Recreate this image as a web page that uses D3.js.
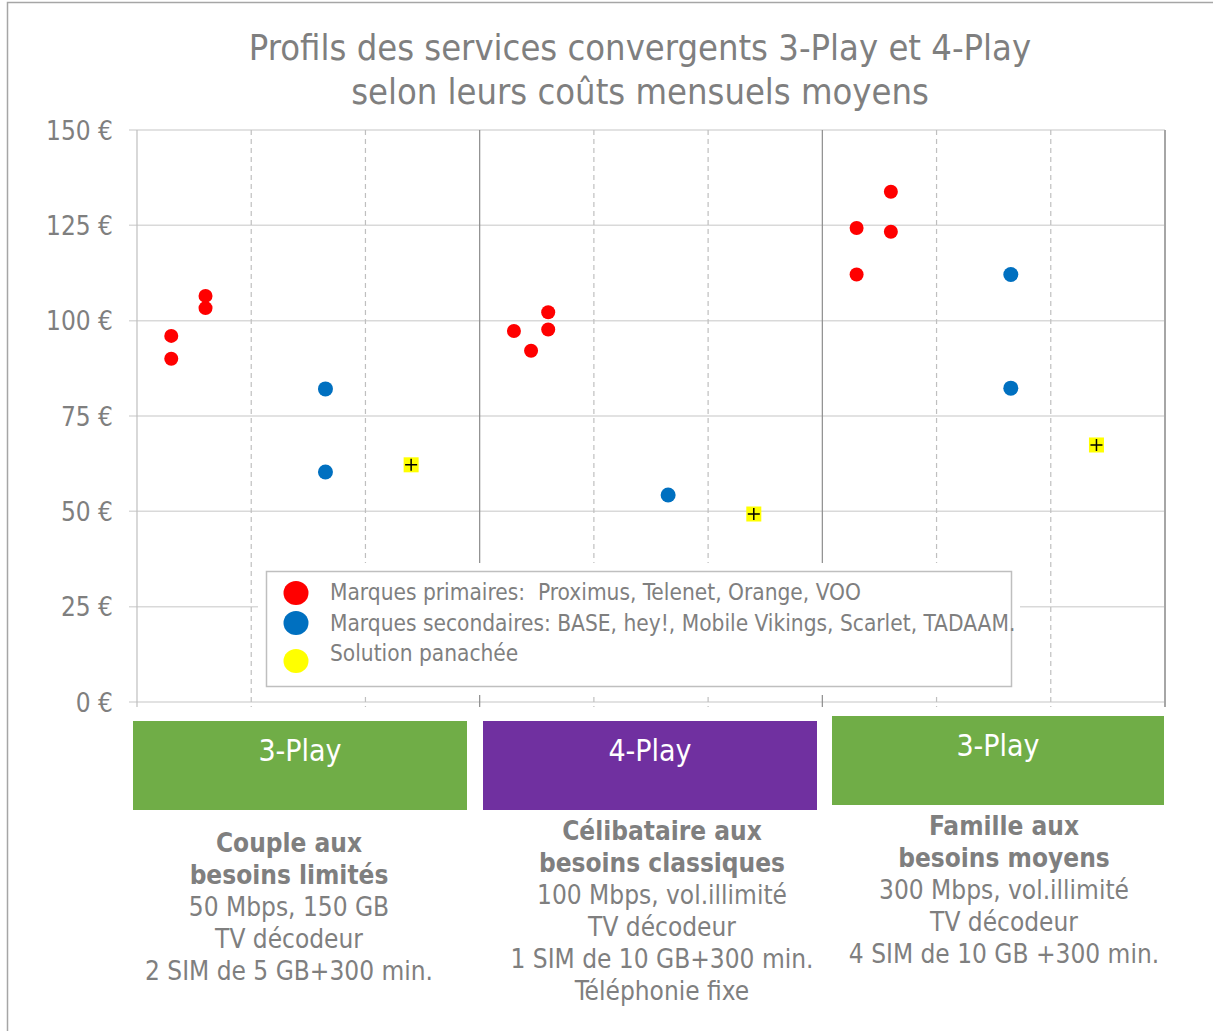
<!DOCTYPE html>
<html>
<head>
<meta charset="UTF-8">
<title>Profils des services convergents</title>
<script src="https://cdn.jsdelivr.net/npm/d3@7"></script>
<style>
  body { margin: 0; background: #fff; }
  text { font-family: "DejaVu Sans Condensed", "DejaVu Sans", sans-serif; fill: #7f7f7f; }
</style>
</head>
<body>
<script>
  // values (x = position along the 9 sub-columns)
  const primaryX = [0.3, 0.3, 0.6, 0.6, 3.3, 3.45, 3.6, 3.6, 6.3, 6.3, 6.6, 6.6];
  const primaryY = [96, 90, 106.5, 103.3, 97.3, 92.1, 102.2, 97.7, 124.3, 112.1, 133.8, 123.3];
  const secondaryX = [1.65, 1.65, 4.65, 7.65, 7.65];
  const secondaryY = [82.1, 60.3, 54.3, 112.1, 82.3];
  const mixX = [2.4, 5.4, 8.4];
  const mixY = [62.2, 49.3, 67.4];

  const yTicks = [0, 25, 50, 75, 100, 125, 150];
  const playLabels = ["3-Play", "4-Play", "3-Play"];
  const legendLabels = [
    "Marques primaires:  Proximus, Telenet, Orange, VOO",
    "Marques secondaires: BASE, hey!, Mobile Vikings, Scarlet, TADAAM.",
    "Solution panachée"
  ];
  const profileTitles = [
    ["Couple aux", "besoins limités"],
    ["Célibataire aux", "besoins classiques"],
    ["Famille aux", "besoins moyens"]
  ];
  const profileDetails = [
    ["50 Mbps, 150 GB", "TV décodeur", "2 SIM de 5 GB+300 min."],
    ["100 Mbps, vol.illimité", "TV décodeur", "1 SIM de 10 GB+300 min.", "Téléphonie fixe"],
    ["300 Mbps, vol.illimité", "TV décodeur", "4 SIM de 10 GB +300 min."]
  ];

  const W = 1213, H = 1031;
  const svg = d3.select("body").append("svg")
    .attr("width", W).attr("height", H);

  // outer frame
  svg.append("rect")
    .attr("x", 7.5).attr("y", 2.5)
    .attr("width", W + 10).attr("height", H + 10)
    .attr("fill", "none").attr("stroke", "#a6a6a6").attr("stroke-width", 1.5);

  const x = d3.scaleLinear().domain([0, 9]).range([137, 1165]);
  const y = d3.scaleLinear().domain([0, 150]).range([702, 130]);

  // title
  svg.append("text").attr("x", 640).attr("y", 60)
    .attr("text-anchor", "middle").style("font-size", "36px")
    .text("Profils des services convergents 3-Play et 4-Play");
  svg.append("text").attr("x", 640).attr("y", 104)
    .attr("text-anchor", "middle").style("font-size", "36px")
    .text("selon leurs coûts mensuels moyens");

  // horizontal grid
  svg.append("g").selectAll("line")
    .data(yTicks).enter().append("line")
    .attr("x1", 129).attr("x2", x(9))
    .attr("y1", d => y(d)).attr("y2", d => y(d))
    .attr("stroke", "#d9d9d9").attr("stroke-width", 1.5);

  // vertical separators
  const cols = d3.range(0, 10);
  svg.append("g").selectAll("line")
    .data(cols).enter().append("line")
    .attr("x1", d => x(d)).attr("x2", d => x(d))
    .attr("y1", y(150)).attr("y2", y(0) + 5)
    .attr("stroke", d => d === 0 ? "#bfbfbf" : (d % 3 === 0 ? (d === 9 ? "#a6a6a6" : "#8c8c8c") : "#bfbfbf"))
    .attr("stroke-width", d => d === 9 ? 2 : 1.2)
    .attr("stroke-dasharray", d => d % 3 === 0 ? null : "5,4");

  // y axis labels
  const yAxis = d3.axisLeft(y).tickValues(yTicks)
    .tickFormat(d => d + " €").tickSize(0).tickPadding(24);
  const gy = svg.append("g").attr("transform", "translate(137,0)").call(yAxis);
  gy.select(".domain").remove();
  gy.selectAll("text")
    .style("font-size", "26px")
    .attr("fill", "#7f7f7f")
    .attr("dy", "0.35em");

  // points
  svg.append("g").selectAll("circle")
    .data(primaryX).enter().append("circle")
    .attr("cx", d => x(d)).attr("cy", (d, i) => y(primaryY[i]))
    .attr("r", 7).attr("fill", "#ff0000");

  svg.append("g").selectAll("circle")
    .data(secondaryX).enter().append("circle")
    .attr("cx", d => x(d)).attr("cy", (d, i) => y(secondaryY[i]))
    .attr("r", 7.5).attr("fill", "#0070c0");

  const mix = svg.append("g").selectAll("g")
    .data(mixX).enter().append("g")
    .attr("transform", (d, i) => "translate(" + x(d) + "," + y(mixY[i]) + ")");
  mix.append("rect").attr("x", -7.5).attr("y", -7.5)
    .attr("width", 15).attr("height", 15).attr("fill", "#ffff00");
  mix.append("path").attr("d", "M-6,0H6M0,-6V6")
    .attr("stroke", "#000").attr("stroke-width", 1.5);

  // legend
  const lg = svg.append("g");
  lg.append("rect").attr("x", 258).attr("y", 563)
    .attr("width", 762).attr("height", 132).attr("fill", "#fff");
  lg.append("rect").attr("x", 266.5).attr("y", 571.5)
    .attr("width", 745).attr("height", 115)
    .attr("fill", "#fff").attr("stroke", "#bfbfbf").attr("stroke-width", 1.5);
  const legendColors = ["#ff0000", "#0070c0", "#ffff00"];
  const legendY = [593, 623, 661];
  const legendTextY = [600, 631, 661];
  legendLabels.forEach((t, i) => {
    lg.append("ellipse").attr("cx", 296).attr("cy", legendY[i])
      .attr("rx", 12.5).attr("ry", 12).attr("fill", legendColors[i]);
    lg.append("text").attr("x", 330).attr("y", legendTextY[i])
      .style("font-size", "22.5px").style("white-space", "pre")
      .attr("xml:space", "preserve").text(t);
  });

  // play boxes
  const boxX = [133, 483, 832];
  const boxY = [721, 721, 716];
  const boxW = [334, 334, 332];
  const boxColors = ["#70ad47", "#7030a0", "#70ad47"];
  playLabels.forEach((t, i) => {
    svg.append("rect").attr("x", boxX[i]).attr("y", boxY[i])
      .attr("width", boxW[i]).attr("height", 89).attr("fill", boxColors[i]);
    svg.append("text").attr("x", boxX[i] + boxW[i] / 2).attr("y", boxY[i] + 40)
      .attr("text-anchor", "middle").style("font-size", "30px")
      .style("fill", "#fff").text(t);
  });

  // profile descriptions
  const descX = [289, 662, 1004];
  const descY = [852, 840, 835];
  const lineH = 32;
  profileTitles.forEach((lines, i) => {
    const all = lines.map(l => ({ t: l, b: true }))
      .concat(profileDetails[i].map(l => ({ t: l, b: false })));
    all.forEach((l, j) => {
      svg.append("text").attr("x", descX[i]).attr("y", descY[i] + j * lineH)
        .attr("text-anchor", "middle")
        .style("font-size", "26px")
        .style("font-weight", l.b ? "bold" : "normal")
        .text(l.t);
    });
  });
</script>
</body>
</html>
